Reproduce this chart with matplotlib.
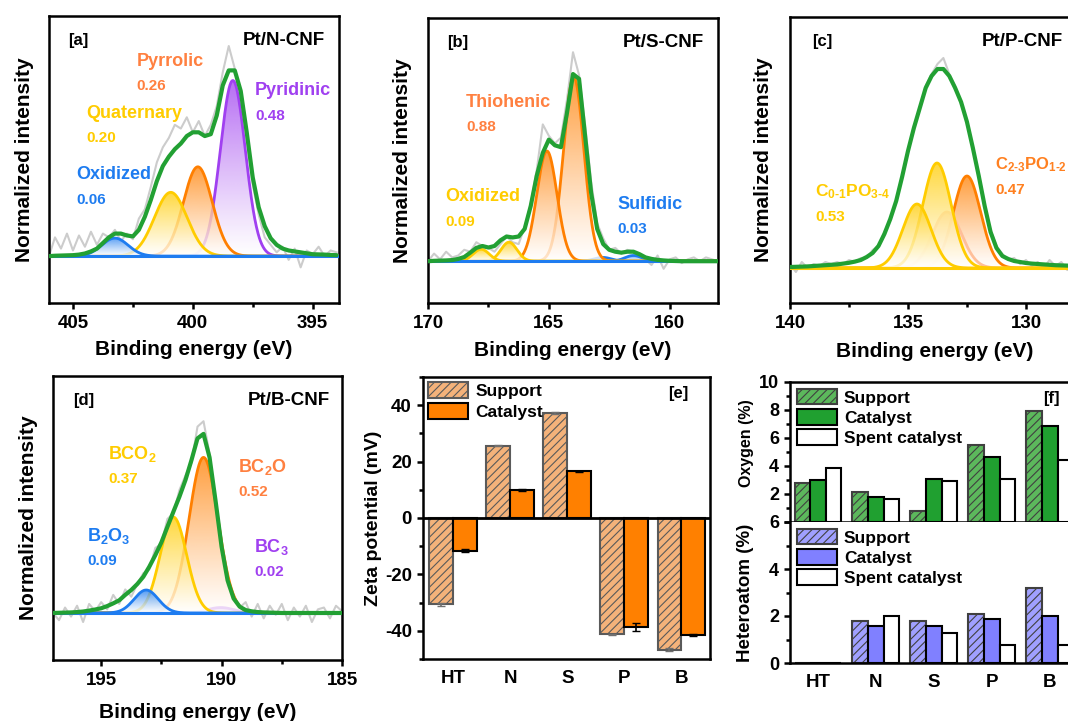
import numpy as np
import matplotlib.pyplot as plt
import matplotlib.colors as mcolors
from matplotlib.patches import Polygon
from matplotlib.ticker import MultipleLocator

plt.rcParams['font.family'] = ['Liberation Sans', 'DejaVu Sans']
plt.rcParams['font.weight'] = 'bold'
plt.rcParams['axes.labelweight'] = 'bold'
plt.rcParams['axes.unicode_minus'] = False
plt.rcParams['mathtext.fontset'] = 'custom'
plt.rcParams['mathtext.rm'] = 'Liberation Sans:bold'
plt.rcParams['mathtext.it'] = 'Liberation Sans:bold'
plt.rcParams['mathtext.bf'] = 'Liberation Sans:bold'
plt.rcParams['hatch.linewidth'] = 0.8

# ---------------- XPS data (raw trace and fit envelope, 0.25 eV steps) ----------------
N_RANGE = (406.0, 394.0)
N_RAW = [0.00, 0.10, 0.04, 0.12, 0.03, 0.11, 0.05, 0.13, 0.06, 0.12, 0.10, 0.14, 0.08,
         0.12, 0.09, 0.20, 0.25, 0.37, 0.50, 0.58, 0.63, 0.70, 0.68, 0.74, 0.66, 0.72,
         0.64, 0.70, 0.80, 0.98, 1.12, 1.00, 0.84, 0.62, 0.38, 0.22, 0.10, 0.06, 0.02,
         0.05, -0.02, 0.04, -0.06, 0.03, 0.01, 0.05, 0.00, 0.03, 0.02]
N_ENV = [0.0, 0.002, 0.003, 0.004, 0.005, 0.008, 0.014, 0.025, 0.04, 0.07, 0.10, 0.12,
         0.12, 0.11, 0.105, 0.14, 0.21, 0.30, 0.40, 0.48, 0.53, 0.57, 0.60, 0.64, 0.66,
         0.66, 0.64, 0.65, 0.75, 0.91, 0.99, 0.99, 0.88, 0.66, 0.42, 0.26, 0.16, 0.095,
         0.06, 0.04, 0.03, 0.025, 0.02, 0.015, 0.01, 0.009, 0.008, 0.006, 0.005]
N_CENTER = [398.33, 399.79, 400.92, 403.25]
N_HEIGHT = [0.936, 0.476, 0.34, 0.096]
N_SIGMA = [0.52, 0.6, 0.68, 0.55]

S_RANGE = (170.0, 158.0)
S_RAW = [0.00, 0.04, 0.01, 0.05, 0.02, 0.03, 0.06, 0.05, 0.10, 0.08, 0.07, 0.05, 0.09,
         0.13, 0.10, 0.09, 0.18, 0.30, 0.48, 0.72, 0.66, 0.62, 0.65, 0.85, 1.10, 0.98,
         0.72, 0.42, 0.20, 0.12, 0.06, 0.07, 0.04, 0.06, 0.05, 0.02, 0.01, -0.02, 0.03,
         -0.04, 0.01, 0.02, -0.01, 0.01, 0.02, 0.00, 0.02, 0.01, 0.00]
S_ENV = [0.0, 0.002, 0.003, 0.004, 0.006, 0.012, 0.022, 0.045, 0.07, 0.08, 0.072, 0.08,
         0.11, 0.13, 0.125, 0.13, 0.17, 0.29, 0.45, 0.57, 0.64, 0.61, 0.60, 0.78, 0.985,
         0.96, 0.66, 0.36, 0.17, 0.09, 0.06, 0.05, 0.045, 0.05, 0.05, 0.037, 0.02, 0.012,
         0.007, 0.004, 0.002, 0.001, 0.0, 0.0, 0.0, 0.0, 0.0, 0.0, 0.0]
S_CENTER = [161.5, 162.77, 163.97, 165.08, 166.65, 167.8]
S_HEIGHT = [0.03, 0.02, 0.97, 0.58, 0.10, 0.063]
S_SIGMA = [0.35, 0.35, 0.42, 0.42, 0.33, 0.33]

P_RANGE = (140.0, 127.75)
P_RAW = [0.02, -0.02, 0.03, 0.00, 0.02, 0.01, 0.03, 0.02, 0.03, 0.02, 0.04, 0.03, 0.05,
         0.05, 0.09, 0.11, 0.18, 0.24, 0.34, 0.46, 0.58, 0.71, 0.80, 0.91, 0.97, 1.02,
         1.05, 0.97, 0.91, 0.82, 0.74, 0.60, 0.47, 0.31, 0.19, 0.11, 0.07, 0.04, 0.05,
         0.02, 0.04, 0.01, 0.03, 0.00, 0.04, 0.01, 0.03, -0.01, 0.02, 0.01]
P_ENV = [0.005, 0.006, 0.007, 0.008, 0.01, 0.012, 0.014, 0.016, 0.018, 0.022, 0.026,
         0.032, 0.04, 0.055, 0.075, 0.11, 0.17, 0.245, 0.335, 0.455, 0.585, 0.70, 0.80,
         0.90, 0.96, 0.995, 0.995, 0.96, 0.90, 0.83, 0.73, 0.60, 0.46, 0.31, 0.18, 0.10,
         0.06, 0.045, 0.035, 0.03, 0.025, 0.022, 0.02, 0.018, 0.016, 0.014, 0.013, 0.012,
         0.011, 0.01]
P_CENTER = [132.5, 133.35, 133.77, 134.62]
P_HEIGHT = [0.46, 0.28, 0.525, 0.32]
P_SIGMA = [0.58, 0.62, 0.6, 0.6]

B_RANGE = (197.0, 185.0)
B_RAW = [0.00, -0.04, 0.03, -0.02, 0.04, -0.05, 0.05, 0.01, 0.06, 0.02, 0.10, 0.05, 0.13,
         0.09, 0.16, 0.22, 0.24, 0.36, 0.38, 0.52, 0.55, 0.68, 0.76, 0.83, 1.03, 1.06,
         0.88, 0.60, 0.40, 0.15, 0.10, 0.03, 0.06, -0.02, 0.05, -0.03, 0.04, -0.01, 0.05,
         -0.04, 0.03, -0.02, 0.04, -0.05, 0.02, 0.03, -0.03, 0.04, 0.01]
B_ENV = [0.0, 0.001, 0.002, 0.003, 0.005, 0.008, 0.013, 0.019, 0.026, 0.038, 0.053, 0.07,
         0.10, 0.127, 0.16, 0.20, 0.256, 0.32, 0.39, 0.476, 0.56, 0.643, 0.735, 0.845,
         0.965, 0.99, 0.86, 0.62, 0.366, 0.18, 0.08, 0.035, 0.016, 0.009, 0.005, 0.003,
         0.002, 0.001, 0.0, 0.0, 0.0, 0.0, 0.0, 0.0, 0.0, 0.0, 0.0, 0.0, 0.0]
B_CENTER = [190.04, 190.75, 192.0, 193.13]
B_HEIGHT = [0.03, 0.86, 0.53, 0.127]
B_SIGMA = [0.55, 0.6, 0.55, 0.5]

# ---------------- zeta potential ----------------
SAMPLES = ['HT', 'N', 'S', 'P', 'B']
ZETA_SUPPORT = [-30.6, 25.7, 37.2, -41.3, -46.7]
ZETA_SUPPORT_ERR = [0.6, 0.3, 0.3, 0.3, 0.5]
ZETA_CATALYST = [-11.6, 10.0, 16.5, -38.7, -41.5]
ZETA_CATALYST_ERR = [0.6, 0.4, 0.3, 1.4, 0.4]

# ---------------- elemental content ----------------
OXY_SUPPORT = [2.79, 2.17, 0.81, 5.48, 7.9]
OXY_CATALYST = [3.02, 1.76, 3.07, 4.67, 6.88]
OXY_SPENT = [3.86, 1.64, 2.95, 3.07, 4.45]
HET_SUPPORT = [0.0, 1.79, 1.79, 2.08, 3.19]
HET_CATALYST = [0.0, 1.58, 1.58, 1.89, 1.98]
HET_SPENT = [0.0, 1.98, 1.28, 0.78, 0.78]

BLUE = '#1e7cf0'
YELLOW = '#ffcc00'
ORANGE = '#ff7f00'
LORANGE = '#ffbf99'
PURPLE = '#a040f0'
GREEN = '#22a033'
TXT_ORANGE = '#ff8040'

W, H = 1068, 721
fig = plt.figure(figsize=(W / 100, H / 100), dpi=100)


def px_axes(l, t, r, b):
    return fig.add_axes([l / W, 1 - b / H, (r - l) / W, (b - t) / H])


def gauss(x, c, h, s):
    return h * np.exp(-(x - c) ** 2 / (2 * s ** 2))


def gradient_fill(ax, x, y, color, z):
    verts = np.column_stack([np.r_[x, x[::-1]], np.r_[y, np.zeros_like(y)]])
    poly = Polygon(verts, closed=True, facecolor='none', edgecolor='none')
    ax.add_patch(poly)
    rgb = np.array(mcolors.to_rgb(color))
    t = np.linspace(0, 1, 256) ** 1.1 * 0.95
    img = np.zeros((256, 1, 4))
    img[:, 0, :3] = 1 - np.outer(t, 1 - rgb)
    img[:, 0, 3] = 0.8
    im = ax.imshow(img, extent=(x.min(), x.max(), 0, y.max()), origin='lower',
                   aspect='auto', zorder=z, interpolation='bilinear')
    im.set_clip_path(poly)


def style_xps(ax, xlim, ylim):
    ax.set_xlim(*xlim)
    ax.set_ylim(*ylim)
    ax.set_yticks([])
    ax.xaxis.set_major_locator(MultipleLocator(5))
    ax.xaxis.set_minor_locator(MultipleLocator(2.5))
    ax.tick_params(axis='x', which='major', direction='out', length=4.5, width=1.8,
                   labelsize=13.5, pad=4)
    ax.tick_params(axis='x', which='minor', direction='out', length=3, width=1.8)
    for sp in ax.spines.values():
        sp.set_linewidth(1.8)
    ax.set_ylabel('Normalized intensity', fontsize=15)
    ax.set_xlabel('Binding energy (eV)', fontsize=15)


def xps_panel(ax, erange, raw, env, centers, heights, sigmas, colors, base_color,
              xlim, ylim):
    e = np.linspace(erange[0], erange[1], len(raw))
    ax.plot(e, raw, color='#cccccc', lw=1.5, zorder=1)
    xf = np.linspace(xlim[0], xlim[1], 900)
    z = 2
    for c, h, s, col in zip(centers, heights, sigmas, colors):
        yk = gauss(xf, c, h, s)
        gradient_fill(ax, xf, yk, col, z)
        ax.plot(xf, yk, color=col, lw=2, zorder=z + 0.5)
        z += 1
    ax.axhline(0, color=base_color, lw=2.2, zorder=z)
    ax.plot(e, env, color=GREEN, lw=3, zorder=z + 1, solid_capstyle='round')
    style_xps(ax, xlim, ylim)


def panel_text(ax, tag, title, labels):
    ax.text(0.065, 0.915, tag, transform=ax.transAxes, fontsize=12, ha='left', va='center')
    ax.text(0.952, 0.915, title, transform=ax.transAxes, fontsize=13.5, ha='right',
            va='center')
    for x, y, name, val, col in labels:
        ax.text(x, y, name, transform=ax.transAxes, fontsize=13, color=col,
                ha='left', va='center')
        ax.text(x, y - 0.087, val, transform=ax.transAxes, fontsize=11, color=col,
                ha='left', va='center')


# ---- (a) N 1s ----
ax_a = px_axes(49, 16, 339, 303)
xps_panel(ax_a, N_RANGE, N_RAW, N_ENV, N_CENTER, N_HEIGHT, N_SIGMA,
          [PURPLE, ORANGE, YELLOW, BLUE], BLUE, (406, 393.9), (-0.25, 1.28))
panel_text(ax_a, '[a]', 'Pt/N-CNF', [
    (0.303, 0.843, 'Pyrrolic', '0.26', TXT_ORANGE),
    (0.13, 0.662, 'Quaternary', '0.20', YELLOW),
    (0.093, 0.446, 'Oxidized', '0.06', BLUE),
    (0.71, 0.739, 'Pyridinic', '0.48', PURPLE),
])
ax_a.yaxis.set_label_coords(-0.052, 0.5)
ax_a.xaxis.set_label_coords(0.5, -0.13)

# ---- (b) S 2p ----
ax_b = px_axes(428, 18, 718, 303)
xps_panel(ax_b, S_RANGE, S_RAW, S_ENV, S_CENTER, S_HEIGHT, S_SIGMA,
          [BLUE, BLUE, ORANGE, ORANGE, YELLOW, YELLOW], BLUE, (170, 158), (-0.22, 1.28))
panel_text(ax_b, '[b]', 'Pt/S-CNF', [
    (0.131, 0.705, 'Thiohenic', '0.88', TXT_ORANGE),
    (0.059, 0.372, 'Oxidized', '0.09', YELLOW),
    (0.652, 0.347, 'Sulfidic', '0.03', BLUE),
])
ax_b.yaxis.set_label_coords(-0.055, 0.5)
ax_b.xaxis.set_label_coords(0.5, -0.135)

# ---- (c) P 2p ----
ax_c = px_axes(790, 17, 1080, 303)
xps_panel(ax_c, P_RANGE, P_RAW, P_ENV, P_CENTER, P_HEIGHT, P_SIGMA,
          [ORANGE, LORANGE, YELLOW, YELLOW], YELLOW, (140, 127.71), (-0.175, 1.255))
panel_text(ax_c, '[c]', 'Pt/P-CNF', [
    (0.087, 0.388, r'C$_{\text{0-1}}$PO$_{\text{3-4}}$', '0.53', YELLOW),
    (0.708, 0.483, r'C$_{\text{2-3}}$PO$_{\text{1-2}}$', '0.47', '#ff8020'),
])
ax_c.texts[0].set_x(0.076)
ax_c.texts[1].set_x(0.94)
ax_c.texts[2].set_fontsize(12.5)
ax_c.texts[4].set_fontsize(12)
ax_c.yaxis.set_label_coords(-0.059, 0.5)
ax_c.xaxis.set_label_coords(0.5 * 278 / 290 + 0.02, -0.135)

# ---- (d) B 1s ----
ax_d = px_axes(53, 376, 342, 660)
xps_panel(ax_d, B_RANGE, B_RAW, B_ENV, B_CENTER, B_HEIGHT, B_SIGMA,
          [PURPLE, ORANGE, YELLOW, BLUE], BLUE, (197, 185), (-0.26, 1.31))
panel_text(ax_d, '[d]', 'Pt/B-CNF', [
    (0.19, 0.725, r'BCO$_2$', '0.37', YELLOW),
    (0.64, 0.68, r'BC$_2$O', '0.52', TXT_ORANGE),
    (0.118, 0.437, r'B$_2$O$_3$', '0.09', BLUE),
    (0.696, 0.398, r'BC$_3$', '0.02', PURPLE),
])
ax_d.texts[0].set_x(0.069)
ax_d.texts[1].set_x(0.958)
ax_d.yaxis.set_label_coords(-0.052, 0.5)
ax_d.xaxis.set_label_coords(0.5, -0.15)

# ---- (e) zeta potential ----
ax_e = px_axes(423, 377, 710, 659)
x = np.arange(len(SAMPLES))
bw = 0.42
ax_e.bar(x - bw / 2, ZETA_SUPPORT, bw, color='#f4b27a', edgecolor='#5a5a5a', hatch='////',
         lw=1.5, label='Support', zorder=2)
ax_e.bar(x + bw / 2, ZETA_CATALYST, bw, color='#ff8000', edgecolor='black', lw=1.5,
         label='Catalyst', zorder=2)
ax_e.errorbar(x - bw / 2, ZETA_SUPPORT, yerr=ZETA_SUPPORT_ERR, fmt='none', ecolor='#707070',
              elinewidth=1.2, capsize=3, zorder=3)
ax_e.errorbar(x + bw / 2, ZETA_CATALYST, yerr=ZETA_CATALYST_ERR, fmt='none', ecolor='black',
              elinewidth=1.2, capsize=3, zorder=3)
ax_e.axhline(0, color='black', lw=2, zorder=4)
ax_e.set_xlim(-0.53, 4.5)
ax_e.set_ylim(-50, 50)
ax_e.set_xticks(x)
ax_e.set_xticklabels(SAMPLES)
ax_e.yaxis.set_major_locator(MultipleLocator(20))
ax_e.yaxis.set_minor_locator(MultipleLocator(10))
ax_e.tick_params(axis='x', length=0, labelsize=13.5, pad=8)
ax_e.tick_params(axis='y', which='major', direction='out', length=4.5, width=1.8,
                 labelsize=13.5)
ax_e.tick_params(axis='y', which='minor', direction='out', length=3, width=1.8)
for sp in ax_e.spines.values():
    sp.set_linewidth(1.8)
ax_e.set_ylabel('Zeta potential (mV)', fontsize=14)
ax_e.yaxis.set_label_coords(-0.143, 0.5)
ax_e.legend(loc='upper left', frameon=False, fontsize=12.5, handlelength=2.3,
            handleheight=1.05, labelspacing=0.2, borderaxespad=0.2, borderpad=0.1,
            handletextpad=0.4)
ax_e.text(0.923, 0.94, '[e]', transform=ax_e.transAxes, fontsize=12, ha='right',
          va='center')

# ---- (f) oxygen / heteroatom ----
ax_f1 = px_axes(790, 382, 1080, 522)
ax_f2 = px_axes(790, 522, 1080, 663)
fw = 0.27


def content_bars(ax, sup, cat, spent, c_sup, c_cat):
    ax.bar(x - fw, sup, fw, color=c_sup, edgecolor='#404040', hatch='////', lw=1.5,
           label='Support', zorder=2)
    ax.bar(x, cat, fw, color=c_cat, edgecolor='black', lw=1.5, label='Catalyst', zorder=2)
    ax.bar(x + fw, spent, fw, color='white', edgecolor='black', lw=1.5,
           label='Spent catalyst', zorder=2)
    ax.set_xlim(-0.483, 4.52)
    ax.yaxis.set_major_locator(MultipleLocator(2))
    ax.yaxis.set_minor_locator(MultipleLocator(1))
    ax.tick_params(axis='y', which='major', direction='out', length=4.5, width=1.8,
                   labelsize=13)
    ax.tick_params(axis='y', which='minor', direction='out', length=3, width=1.8)
    for sp in ax.spines.values():
        sp.set_linewidth(1.8)
    ax.legend(loc='upper left', frameon=False, fontsize=12.5, handlelength=2.3,
              handleheight=1.0, labelspacing=0.2, borderaxespad=0.3, borderpad=0.1,
              handletextpad=0.4)


content_bars(ax_f1, OXY_SUPPORT, OXY_CATALYST, OXY_SPENT, '#5cb85c', '#20a030')
ax_f1.set_ylim(0, 10)
ax_f1.set_yticks([0, 2, 4, 6, 8, 10])
ax_f1.set_yticklabels(['', '2', '4', '6', '8', '10'])
ax_f1.set_xticks(x)
ax_f1.tick_params(axis='x', length=0, labelbottom=False)
ax_f1.set_ylabel('Oxygen (%)', fontsize=11.5)
ax_f1.yaxis.set_label_coords(-0.125, 0.56)
ax_f1.text(0.931, 0.879, '[f]', transform=ax_f1.transAxes, fontsize=12, ha='right',
           va='center')

content_bars(ax_f2, HET_SUPPORT, HET_CATALYST, HET_SPENT, '#a0a0ff', '#8080ff')
ax_f2.set_ylim(0, 6)
ax_f2.set_xticks(x)
ax_f2.set_xticklabels(SAMPLES)
ax_f2.tick_params(axis='x', length=0, labelsize=13.5, pad=8)
ax_f2.spines['top'].set_visible(False)
ax_f2.set_ylabel('Heteroatom (%)', fontsize=13.5)
ax_f2.yaxis.set_label_coords(-0.125, 0.5)

fig.savefig('out.png', dpi=100)
